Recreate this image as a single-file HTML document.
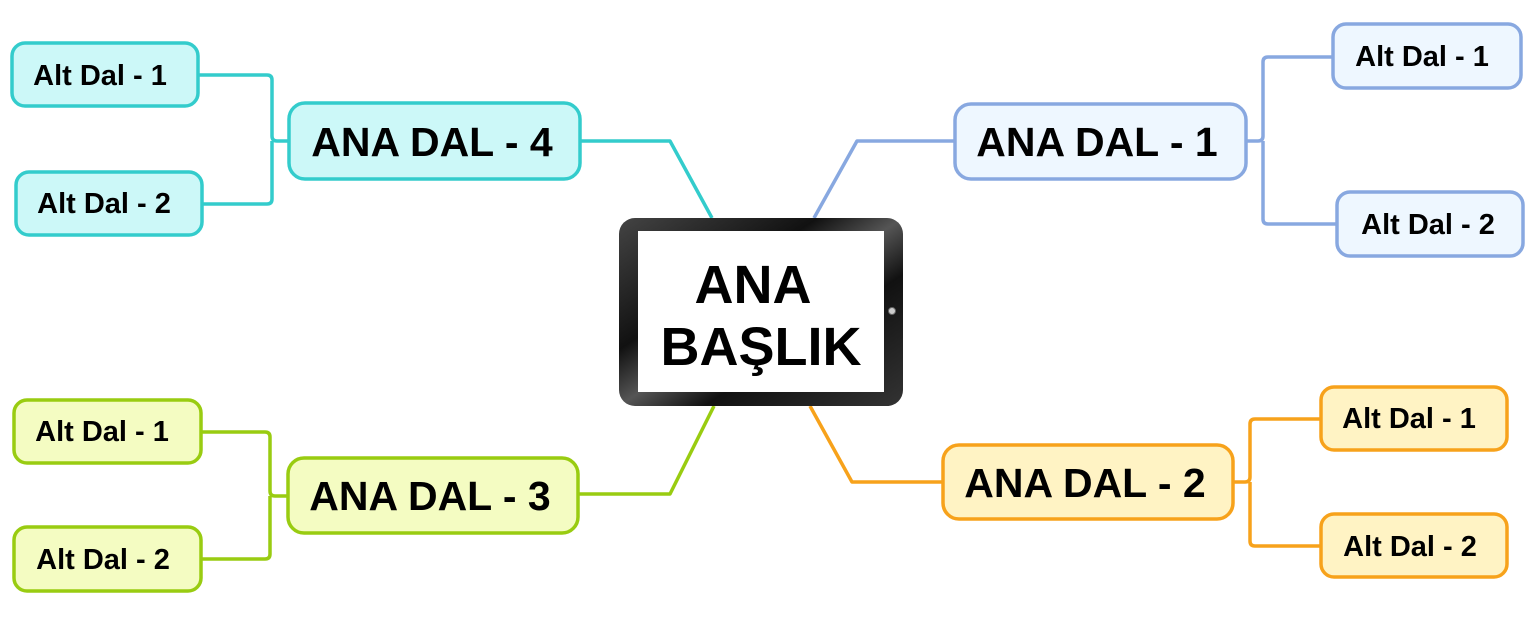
<!DOCTYPE html>
<html><head><meta charset="utf-8"><style>html,body{margin:0;padding:0;background:#fff}svg{display:block}text{font-family:"Liberation Sans",sans-serif;font-weight:bold;fill:#000}</style></head><body>
<svg width="1536" height="624" viewBox="0 0 1536 624" xmlns="http://www.w3.org/2000/svg">
<defs>
<linearGradient id="fr" x1="0" y1="0" x2="1" y2="1">
<stop offset="0" stop-color="#444"/><stop offset="0.35" stop-color="#111"/><stop offset="0.5" stop-color="#555"/><stop offset="0.65" stop-color="#111"/><stop offset="1" stop-color="#333"/>
</linearGradient>
</defs>
<g fill="none" stroke-width="3.5" stroke-linejoin="round">
<path d="M814 218 L857 141 L955 141" stroke="#88a8e0"/>
<path d="M1246 141 H1258 Q1263 141 1263 136 V62 Q1263 57 1268 57 H1333 M1263 141 V219 Q1263 224 1268 224 H1337" stroke="#88a8e0"/>
<path d="M810 406 L852 482 L943 482" stroke="#f7a21b"/>
<path d="M1233 482 H1245 Q1250 482 1250 477 V424 Q1250 419 1255 419 H1321 M1250 482 V541 Q1250 546 1255 546 H1321" stroke="#f7a21b"/>
<path d="M714 406 L670 494 L578 494" stroke="#99cc11"/>
<path d="M288 496 H275 Q270 496 270 491 V437 Q270 432 265 432 H201 M270 496 V554 Q270 559 265 559 H201" stroke="#99cc11"/>
<path d="M712 218 L670 141 L580 141" stroke="#33cccc"/>
<path d="M289 141 H277 Q272 141 272 136 V80 Q272 75 267 75 H198 M272 141 V199 Q272 204 267 204 H202" stroke="#33cccc"/>
</g>
<g stroke-width="3.5">
<rect x="955" y="104" width="291" height="75" rx="16" fill="#eef7ff" stroke="#88a8e0"/>
<rect x="1333" y="24" width="188" height="64" rx="13" fill="#eef7ff" stroke="#88a8e0"/>
<rect x="1337" y="192" width="186" height="64" rx="13" fill="#eef7ff" stroke="#88a8e0"/>
<rect x="943" y="445" width="290" height="74" rx="16" fill="#fff3c4" stroke="#f7a21b"/>
<rect x="1321" y="387" width="186" height="63" rx="13" fill="#fff3c4" stroke="#f7a21b"/>
<rect x="1321" y="514" width="186" height="63" rx="13" fill="#fff3c4" stroke="#f7a21b"/>
<rect x="288" y="458" width="290" height="75" rx="16" fill="#f4fcc2" stroke="#99cc11"/>
<rect x="14" y="400" width="187" height="63" rx="13" fill="#f4fcc2" stroke="#99cc11"/>
<rect x="14" y="527" width="187" height="64" rx="13" fill="#f4fcc2" stroke="#99cc11"/>
<rect x="289" y="103" width="291" height="76" rx="16" fill="#ccf8f8" stroke="#33cccc"/>
<rect x="12" y="43" width="186" height="63" rx="13" fill="#ccf8f8" stroke="#33cccc"/>
<rect x="16" y="172" width="186" height="63" rx="13" fill="#ccf8f8" stroke="#33cccc"/>
</g>
<rect x="619" y="218" width="284" height="188" rx="16" fill="url(#fr)"/>
<rect x="638" y="231" width="246" height="161" fill="#fff"/>
<circle cx="892" cy="311" r="3.5" fill="#ccc" stroke="#666" stroke-width="1"/>
<text x="753" y="303" font-size="54" text-anchor="middle">ANA</text>
<text x="761" y="365" font-size="54" text-anchor="middle">BAŞLIK</text>
<g font-size="41" text-anchor="middle">
<text x="1097" y="156">ANA DAL - 1</text>
<text x="1085" y="497">ANA DAL - 2</text>
<text x="430" y="510">ANA DAL - 3</text>
<text x="432" y="156">ANA DAL - 4</text>
</g>
<g font-size="29" text-anchor="middle">
<text x="1422" y="66">Alt Dal - 1</text>
<text x="1428" y="234">Alt Dal - 2</text>
<text x="1409" y="428">Alt Dal - 1</text>
<text x="1410" y="556">Alt Dal - 2</text>
<text x="102" y="441">Alt Dal - 1</text>
<text x="103" y="569">Alt Dal - 2</text>
<text x="100" y="85">Alt Dal - 1</text>
<text x="104" y="213">Alt Dal - 2</text>
</g>
</svg>
</body></html>
